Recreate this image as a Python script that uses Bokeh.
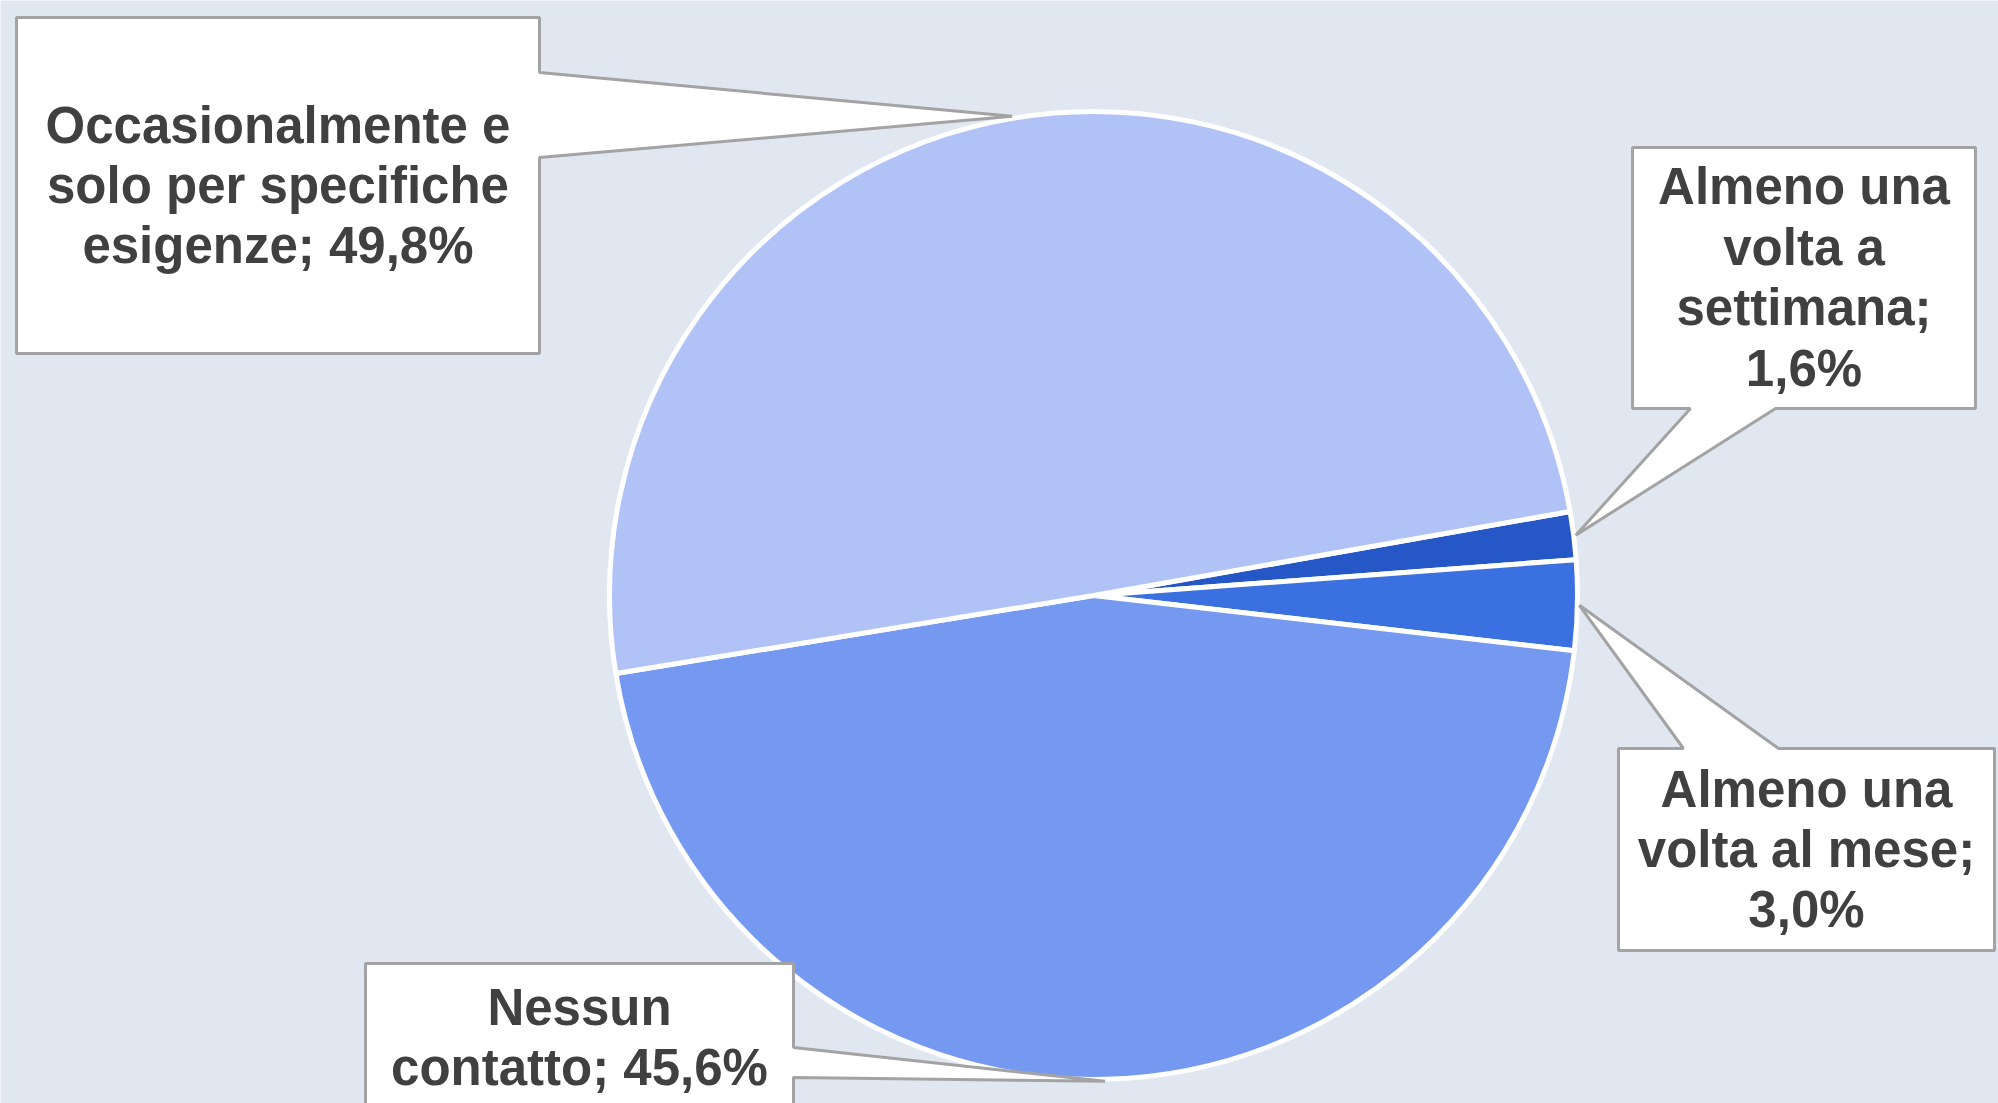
import math
from bokeh.plotting import figure
from bokeh.models import Range1d, ColumnDataSource
from bokeh.core.properties import value
from bokeh.embed import file_html
from bokeh.resources import INLINE

# ---- data ----
categories = [
    "Almeno una volta a settimana",
    "Almeno una volta al mese",
    "Nessun contatto",
    "Occasionalmente e solo per specifiche esigenze",
]
shares = [1.6, 3.0, 45.6, 49.8]
labels = [
    "Almeno una\nvolta a\nsettimana;\n1,6%",
    "Almeno una\nvolta al mese;\n3,0%",
    "Nessun\ncontatto; 45,6%",
    "Occasionalmente e\nsolo per specifiche\nesigenze; 49,8%",
]
colors = ["#2657C6", "#3A70DF", "#7599F0", "#B0C2F6"]

# ---- layout (reference pixel space, y down) ----
W, H = 1998, 1103
BG = "#E0E7F0"
CX, CY, R = 1093, 595, 484
FIRST_SLICE_ANGLE = 80  # degrees clockwise from 12 o'clock

def fy(y):
    return H - y

# callout boxes: (left, top, right, bottom, side, base_a, base_b, text_center_y)
boxes = [
    (1632, 147, 1975, 408, "bottom", 1690, 1775, 277),
    (1618, 748, 1994, 950, "top", 1683, 1778, 849),
    (365, 963, 793, 1115, "right", 1047, 1077, 1037),
    (16, 17, 539, 353, "right", 72, 157, 185),
]

p = figure(width=W, height=H, output_backend="svg", toolbar_location=None,
           x_range=Range1d(0, W), y_range=Range1d(0, H),
           min_border=0, background_fill_color=BG, border_fill_color=BG)
p.axis.visible = False
p.grid.visible = False
p.outline_line_color = None

# wedges, clockwise from first slice angle
total = sum(shares)
start = math.radians(90 - FIRST_SLICE_ANGLE)
starts, ends, mids = [], [], []
cum = 0.0
for s in shares:
    a0 = start - 2 * math.pi * cum / total
    cum += s
    a1 = start - 2 * math.pi * cum / total
    starts.append(a1)
    ends.append(a0)
    mids.append((a0 + a1) / 2)

src = ColumnDataSource(dict(start=starts, end=ends, color=colors, cat=categories))
p.wedge(x=CX, y=fy(CY), radius=R, start_angle="start", end_angle="end",
        direction="anticlock", fill_color="color", line_color="white",
        line_width=5, source=src)

# callouts
for (l, t, r, b, side, ba, bb, tcy), m, lab in zip(boxes, mids, labels):
    tx = CX + (R + 2) * math.cos(m)
    ty = CY - (R + 2) * math.sin(m)
    if side == "right":
        pts = [(l, t), (r, t), (r, ba), (tx, ty), (r, bb), (r, b), (l, b)]
    elif side == "bottom":
        pts = [(l, t), (r, t), (r, b), (bb, b), (tx, ty), (ba, b), (l, b)]
    else:  # top
        pts = [(l, t), (ba, t), (tx, ty), (bb, t), (r, t), (r, b), (l, b)]
    p.patch([q[0] for q in pts], [fy(q[1]) for q in pts], fill_color="white",
            line_color="#A3A3A3", line_width=3)
    p.text(x=[(l + r) / 2], y=[fy(tcy)], text=[lab],
           text_font=value("Liberation Sans"), text_font_style="bold",
           text_font_size="51px", text_color="#404040",
           text_align="center", text_baseline="middle", text_line_height=1.06)

html = file_html(p, INLINE)
html = html.replace("<body>", '<body style="background-color:%s;">' % BG, 1)
open("out.html", "w").write(html)
